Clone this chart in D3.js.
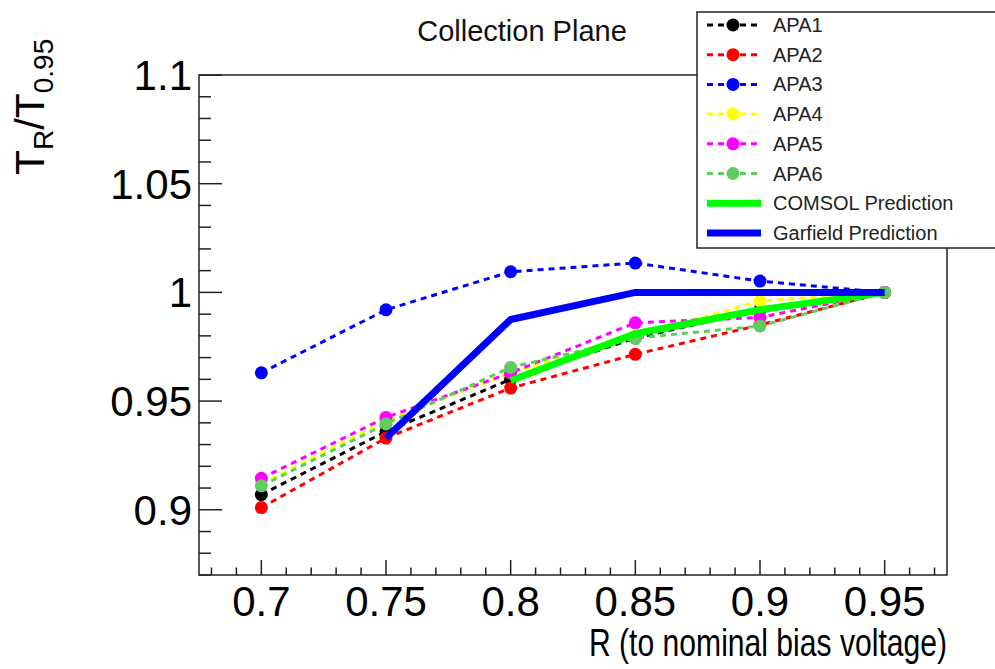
<!DOCTYPE html>
<html>
<head>
<meta charset="utf-8">
<script src="https://cdn.jsdelivr.net/npm/d3@7"></script>
<style>
  body { margin: 0; background: #fff; }
  svg { display: block; font-family: "Liberation Sans", Arial, sans-serif; }
</style>
</head>
<body>
<div id="chart"></div>
<script>
// R values (x)
const rValues = [0.7, 0.75, 0.8, 0.85, 0.9, 0.95];

// measured T_R / T_0.95 per APA
const apa1 = [0.907, 0.936, 0.960, 0.979, 0.992, 1.0];
const apa2 = [0.901, 0.933, 0.956, 0.9715, 0.985, 1.0];
const apa3 = [0.963, 0.992, 1.0095, 1.0135, 1.0052, 1.0];
const apa4 = [0.912, 0.941, 0.963, 0.980, 0.996, 1.0];
const apa5 = [0.9145, 0.9425, 0.963, 0.986, 0.9885, 1.0];
const apa6 = [0.911, 0.9395, 0.9655, 0.979, 0.9845, 1.0];

// predictions
const comsolR = [0.8, 0.85, 0.9, 0.95];
const comsolVals = [0.9595, 0.981, 0.992, 1.0];
const garfieldR = [0.75, 0.8, 0.85, 0.9, 0.95];
const garfieldVals = [0.933, 0.9875, 1.0, 1.0, 1.0];

const xTicks = [0.7, 0.75, 0.8, 0.85, 0.9, 0.95];
const yTicks = [0.9, 0.95, 1, 1.05, 1.1];

const seriesNames = ['APA1', 'APA2', 'APA3', 'APA4', 'APA5', 'APA6'];
const seriesVals = [apa1, apa2, apa3, apa4, apa5, apa6];
const seriesColors = ['#000000', '#ff0000', '#0000ff', '#ffff00', '#ff00ff', '#5fcc5f'];

const W = 995, H = 669;
const svg = d3.select('#chart').append('svg')
    .attr('width', W)
    .attr('height', H);

const x = d3.scaleLinear().domain([0.675, 0.975]).range([199, 947]);
const y = d3.scaleLinear().domain([0.87, 1.1]).range([575, 75]);

const axisColor = '#222';

// frame
svg.append('rect')
    .attr('x', x(0.675)).attr('y', y(1.1))
    .attr('width', x(0.975) - x(0.675))
    .attr('height', y(0.87) - y(1.1))
    .attr('fill', 'none')
    .attr('stroke', axisColor)
    .attr('stroke-width', 1.5);

// x ticks, every 0.01, drawn inward
const xMinor = d3.range(68, 98).map(d => d / 100);
svg.append('g').selectAll('line')
    .data(xMinor)
    .enter().append('line')
    .attr('x1', d => x(d)).attr('x2', d => x(d))
    .attr('y1', y(0.87))
    .attr('y2', d => y(0.87) - (Math.abs(d * 20 - Math.round(d * 20)) < 1e-6 ? 15 : 7.5))
    .attr('stroke', axisColor)
    .attr('stroke-width', 1.5);

svg.append('g').selectAll('text')
    .data(xTicks)
    .enter().append('text')
    .attr('x', d => x(d))
    .attr('y', 616)
    .attr('text-anchor', 'middle')
    .attr('font-size', 42)
    .text(d => d);

// y ticks
const yMinor = d3.range(87, 111).map(d => d / 100);
svg.append('g').selectAll('line')
    .data(yMinor)
    .enter().append('line')
    .attr('x1', x(0.675))
    .attr('x2', d => x(0.675) + (Math.abs(d * 20 - Math.round(d * 20)) < 1e-6 ? 23 : 12))
    .attr('y1', d => y(d)).attr('y2', d => y(d))
    .attr('stroke', axisColor)
    .attr('stroke-width', 1.5);

svg.append('g').selectAll('text')
    .data(yTicks)
    .enter().append('text')
    .attr('x', 192)
    .attr('y', d => y(d) + 15)
    .attr('text-anchor', 'end')
    .attr('font-size', 42)
    .text(d => d);

// axis titles
svg.append('text')
    .attr('x', 947)
    .attr('y', 656)
    .attr('text-anchor', 'end')
    .attr('font-size', 39)
    .attr('textLength', 358)
    .attr('lengthAdjust', 'spacingAndGlyphs')
    .text('R (to nominal bias voltage)');

const yTitle = svg.append('text')
    .attr('transform', 'translate(44,175) rotate(-90)')
    .attr('font-size', 41);
yTitle.append('tspan').text('T');
yTitle.append('tspan').attr('font-size', 28).attr('dy', 9).text('R');
yTitle.append('tspan').attr('dy', -9).text('/T');
yTitle.append('tspan').attr('font-size', 28).attr('dy', 9).text('0.95');

// title
svg.append('text')
    .attr('x', 522)
    .attr('y', 41)
    .attr('text-anchor', 'middle')
    .attr('font-size', 29)
    .attr('fill', '#111')
    .text('Collection Plane');

// data series
const line = d3.line().x(d => x(d[0])).y(d => y(d[1]));

seriesVals.forEach((vals, i) => {
    const pts = rValues.map((r, j) => [r, vals[j]]);
    svg.append('path')
        .datum(pts)
        .attr('d', line)
        .attr('fill', 'none')
        .attr('stroke', seriesColors[i])
        .attr('stroke-width', 3)
        .attr('stroke-dasharray', '6,5');
    svg.append('g').selectAll('circle')
        .data(pts)
        .enter().append('circle')
        .attr('cx', d => x(d[0]))
        .attr('cy', d => y(d[1]))
        .attr('r', 6.5)
        .attr('fill', seriesColors[i]);
});

svg.append('path')
    .datum(comsolR.map((r, j) => [r, comsolVals[j]]))
    .attr('d', line)
    .attr('fill', 'none')
    .attr('stroke', '#00ff00')
    .attr('stroke-width', 7);

svg.append('path')
    .datum(garfieldR.map((r, j) => [r, garfieldVals[j]]))
    .attr('d', line)
    .attr('fill', 'none')
    .attr('stroke', '#0000ff')
    .attr('stroke-width', 7);

// legend
const leg = svg.append('g');
leg.append('rect')
    .attr('x', 697).attr('y', 12)
    .attr('width', 320).attr('height', 236)
    .attr('fill', '#fff')
    .attr('stroke', axisColor)
    .attr('stroke-width', 1.5);

const legItems = seriesNames.map((n, i) => ({ name: n, color: seriesColors[i], kind: 'marker' }))
    .concat([
        { name: 'COMSOL Prediction', color: '#00ff00', kind: 'solid' },
        { name: 'Garfield Prediction', color: '#0000ff', kind: 'solid' }
    ]);

legItems.forEach((it, i) => {
    const cy = 25 + i * 29.7;
    if (it.kind === 'marker') {
        leg.append('line')
            .attr('x1', 707).attr('x2', 758)
            .attr('y1', cy).attr('y2', cy)
            .attr('stroke', it.color)
            .attr('stroke-width', 3)
            .attr('stroke-dasharray', '6,5');
        leg.append('circle')
            .attr('cx', 733).attr('cy', cy).attr('r', 6.5)
            .attr('fill', it.color);
    } else {
        leg.append('line')
            .attr('x1', 707).attr('x2', 761)
            .attr('y1', cy).attr('y2', cy)
            .attr('stroke', it.color)
            .attr('stroke-width', 7);
    }
    leg.append('text')
        .attr('x', 773)
        .attr('y', cy + 7)
        .attr('font-size', 20)
        .attr('fill', '#222')
        .text(it.name);
});
</script>
</body>
</html>
